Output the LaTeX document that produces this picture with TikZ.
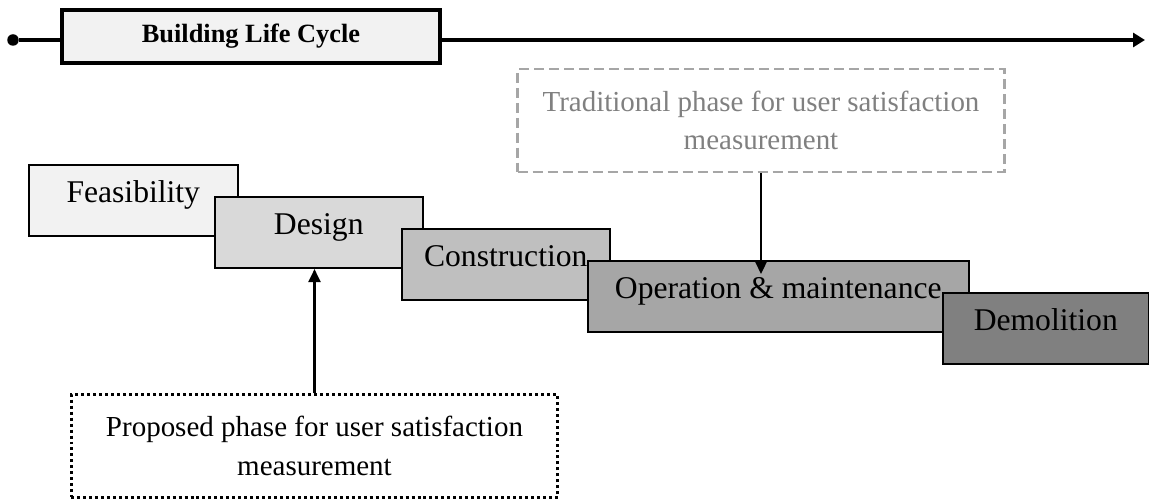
\documentclass[tikz,border=0pt]{standalone}
\usepackage{fontspec}
\setmainfont{Liberation Serif}
\usetikzlibrary{arrows.meta}
\tikzset{
  fase/.style={draw=black, line width=0.9pt, anchor=north west, minimum height=1.43cm,
    text height=0.7em, text depth=0.5em, inner sep=0pt, font=\fontsize{18}{21}\selectfont},
  nota/.style={minimum width=9.74cm, minimum height=2.05cm, align=center,
    font=\fontsize{16.5}{22}\selectfont},
  flecha/.style={line width=1.3pt, -{Triangle[length=0.26cm, width=0.24cm]}}
}
\begin{document}
\begin{tikzpicture}[x=0.02cm, y=-0.02cm]
\useasboundingbox (0,0) rectangle (1149,502);

% Linea de tiempo del ciclo de vida
\node [circle, fill=black, inner sep=0pt, minimum size=0.23cm] (inicio) at (13,40) {};
\node [draw=black, line width=2pt, fill=black!5, minimum width=7.56cm, minimum height=1.06cm,
  text height=0.9em, text depth=0.2em,
  font=\bfseries\fontsize{15}{18}\selectfont] (ciclo) at (251,36.5) {Building Life Cycle};
\coordinate (fin) at (1145,40);
\draw [line width=2.2pt] (inicio) -- (inicio -| ciclo.west);
\draw [line width=2.2pt, -{Triangle[length=0.24cm, width=0.28cm]}] (ciclo.east |- fin) -- (fin);

% Fases (cada una tapa un poco a la anterior)
\node [fase, fill=black!5, minimum width=4.18cm] (factibilidad) at (28,164) {Feasibility};
\node [fase, fill=black!15, minimum width=4.16cm] (diseno) at (214,196) {Design};
\node [fase, fill=black!25, minimum width=4.16cm] (construccion) at (401,228) {Construction};
\node [fase, fill=black!35, minimum width=7.62cm] (operacion) at (587,260) {Operation \& maintenance};
\node [fase, fill=black!50, minimum width=4.12cm] (demolicion) at (942,292) {Demolition};

% Fase tradicional (gris, discontinua)
\node [nota, draw=black!35, line width=1.4pt, dash pattern=on 0.2cm off 0.1cm, text=black!50]
  (tradicional) at (761,120.5) {Traditional phase for user satisfaction\\measurement};
\coordinate (punta) at (761,274);
\draw [flecha] (tradicional) -- (punta);

% Fase propuesta (punteada)
\node [nota, draw=black, line width=1.7pt, dash pattern=on 1.7pt off 1.7pt]
  (propuesta) at (314.5,446) {Proposed phase for user satisfaction\\measurement};
\draw [flecha] (propuesta) -- (diseno.south -| propuesta);
\end{tikzpicture}
\end{document}
